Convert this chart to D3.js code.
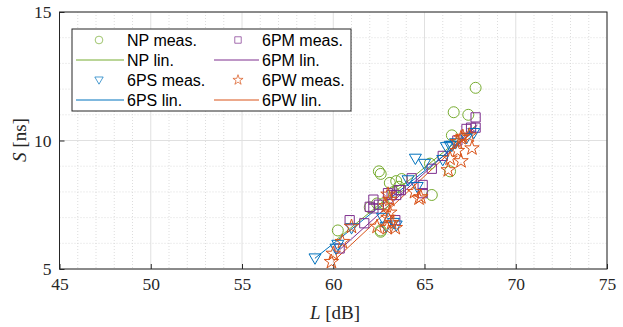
<!DOCTYPE html>
<html><head><meta charset="utf-8">
<script src="https://cdn.jsdelivr.net/npm/d3@7"></script>
<style>body{margin:0;background:#fff}svg{display:block}</style>
</head><body><svg id="c" width="623" height="327"></svg>
<script>
const xTicks = [45,50,55,60,65,70,75];
const yTicks = [5,10,15];
const seriesNames = ["NP","6PM","6PS","6PW"];
const seriesColors = ["#77AC30","#7E2F8E","#0072BD","#D95319"];
const seriesMarkers = ["circle","square","triangle","star"];
const npL = [67.8,66.6,67.4,66.5,65.3,66.4,62.5,62.6,63.1,63.45,63.75,63.6,65.4,63.3,62.0,62.4,62.75,62.6,60.25,62.6];
const npS = [12.05,11.1,11.0,10.2,9.1,8.8,8.8,8.7,8.35,8.42,8.5,8.2,7.88,8.0,7.4,7.55,7.55,6.5,6.5,6.45];
const pmL = [67.8,67.3,67.55,67.8,65.4,64.3,64.9,64.9,63.0,63.6,63.45,62.2,62.5,62.2,63.4,60.9,61.7,60.35,66.8,66.0,63.7,62.0,63.2];
const pmS = [10.9,10.45,10.5,10.5,8.9,8.53,8.27,7.95,7.95,8.07,7.88,7.7,7.5,7.36,6.9,6.9,6.78,5.8,10.0,9.4,8.07,7.42,7.88];
const psL = [67.7,66.5,66.7,66.2,64.5,65.0,66.0,64.1,64.6,63.3,63.45,62.9,61.0,60.25,60.15,59.0,67.3,66.4,62.7];
const psS = [10.3,9.8,9.9,9.75,9.3,9.1,9.25,8.46,8.2,6.8,6.7,6.65,6.6,5.95,5.8,5.42,10.1,9.8,7.0];
const pwL = [67.1,67.45,66.8,67.6,67.0,66.4,66.3,64.45,64.8,64.7,63.0,63.1,62.9,63.1,63.0,63.2,63.4,62.95,62.4,60.5,60.0,59.9,67.0,66.8,61.0];
const pwS = [10.15,10.2,9.95,9.7,9.2,9.3,8.85,8.0,7.8,7.75,7.9,7.7,7.45,7.2,7.0,6.8,6.6,6.6,6.65,6.06,5.6,5.28,10.1,9.6,6.65];
// linear fit endpoints: [L1, S1, L2, S2]
const npFit = [60.1,6.1,67.85,10.6];
const pmFit = [60.35,5.75,67.9,10.6];
const psFit = [59.0,5.42,67.8,10.4];
const pwFit = [60.0,5.3,67.7,10.4];

const seriesL = [npL,pmL,psL,pwL], seriesS=[npS,pmS,psS,pwS], fits=[npFit,pmFit,psFit,pwFit];

const svg = d3.select("#c");
const m = {l:59.5, r:607, t:12, b:269};
const x = d3.scaleLinear().domain([45,75]).range([m.l,m.r]);
const y = d3.scaleLinear().domain([5,15]).range([m.b,m.t]);
const serif = "'Liberation Serif','DejaVu Serif',serif";
const sans = "'Liberation Sans',Arial,sans-serif";

// minor grid
const g = svg.append("g");
g.selectAll(".mx").data(d3.range(46,75).filter(v=>v%5)).enter().append("line")
 .attr("x1",d=>x(d)).attr("x2",d=>x(d)).attr("y1",m.t).attr("y2",m.b)
 .attr("stroke","#d4d4d4").attr("stroke-width",0.8).attr("stroke-dasharray","1,2");
g.selectAll(".my").data(d3.range(6,15).filter(v=>v%5)).enter().append("line")
 .attr("y1",d=>y(d)).attr("y2",d=>y(d)).attr("x1",m.l).attr("x2",m.r)
 .attr("stroke","#d4d4d4").attr("stroke-width",0.8).attr("stroke-dasharray","1,2");
// major grid
g.selectAll(".Mx").data(xTicks).enter().append("line")
 .attr("x1",d=>x(d)).attr("x2",d=>x(d)).attr("y1",m.t).attr("y2",m.b)
 .attr("stroke","#e0e0e0").attr("stroke-width",1);
g.selectAll(".My").data(yTicks).enter().append("line")
 .attr("y1",d=>y(d)).attr("y2",d=>y(d)).attr("x1",m.l).attr("x2",m.r)
 .attr("stroke","#e0e0e0").attr("stroke-width",1);

// axes
const xa = svg.append("g").attr("transform",`translate(0,${m.b})`)
 .call(d3.axisBottom(x).tickValues(xTicks).tickSize(-5).tickPadding(9).tickFormat(d3.format("d")));
const ya = svg.append("g").attr("transform",`translate(${m.l},0)`)
 .call(d3.axisLeft(y).tickValues(yTicks).tickSize(-5).tickPadding(8).tickFormat(d3.format("d")));
[xa,ya].forEach(a=>{
 a.select(".domain").remove();
 a.selectAll("line").attr("stroke","#262626");
 a.selectAll("text").attr("font-family",serif).attr("font-size",17.5).attr("fill","#262626");
});
svg.append("rect").attr("x",m.l).attr("y",m.t).attr("width",m.r-m.l).attr("height",m.b-m.t)
 .attr("fill","none").attr("stroke","#262626").attr("stroke-width",1);

// labels
svg.append("text").attr("x",335).attr("y",319).attr("text-anchor","middle")
 .attr("font-family",serif).attr("font-size",19).attr("fill","#262626")
 .html("<tspan font-style='italic'>L</tspan> [dB]");
svg.append("text").attr("transform","translate(26,140) rotate(-90)").attr("text-anchor","middle")
 .attr("font-family",serif).attr("font-size",19).attr("fill","#262626")
 .html("<tspan font-style='italic'>S</tspan> [ns]");

function markerPath(type){
 if(type==="circle") return d3.symbol(d3.symbolCircle, 95)();
 if(type==="square") return d3.symbol(d3.symbolSquare, 85)();
 if(type==="triangle") return "M-6,-4.3L6,-4.3L0,6Z";
 if(type==="star") return d3.symbol(d3.symbolStar, 65)();
}

const plot = svg.append("g");
// lines
fits.forEach((f,i)=>{
 plot.append("line").attr("x1",x(f[0])).attr("y1",y(f[1])).attr("x2",x(f[2])).attr("y2",y(f[3]))
  .attr("stroke",seriesColors[i]).attr("stroke-width",1);
});
// markers
seriesNames.forEach((n,i)=>{
 const pts = seriesL[i].map((l,k)=>[l,seriesS[i][k]]);
 plot.selectAll(".p"+i).data(pts).enter().append("path")
  .attr("d",markerPath(seriesMarkers[i]))
  .attr("transform",d=>`translate(${x(d[0])},${y(d[1])})`)
  .attr("fill","none").attr("stroke",seriesColors[i]).attr("stroke-width",1);
});

// legend
const lg = svg.append("g");
lg.append("rect").attr("x",72).attr("y",29).attr("width",279).attr("height",82)
 .attr("fill","#fff").attr("stroke","#262626").attr("stroke-width",1);
const items = [
 {c:0,r:0,t:"NP meas.",s:0,type:"m"},{c:0,r:1,t:"NP lin.",s:0,type:"l"},
 {c:0,r:2,t:"6PS meas.",s:2,type:"m"},{c:0,r:3,t:"6PS lin.",s:2,type:"l"},
 {c:1,r:0,t:"6PM meas.",s:1,type:"m"},{c:1,r:1,t:"6PM lin.",s:1,type:"l"},
 {c:1,r:2,t:"6PW meas.",s:3,type:"m"},{c:1,r:3,t:"6PW lin.",s:3,type:"l"}];
const colX = [{l1:76,l2:124,mk:99,tx:127},{l1:214,l2:259,mk:238,tx:262}];
items.forEach(it=>{
 const yy = 40 + it.r*20;
 const cx = colX[it.c];
 if(it.type==="l"){
  lg.append("line").attr("x1",cx.l1).attr("x2",cx.l2).attr("y1",yy).attr("y2",yy)
   .attr("stroke",seriesColors[it.s]).attr("stroke-width",1);
 } else {
  lg.append("path").attr("d",markerPath(seriesMarkers[it.s]))
   .attr("transform",`translate(${cx.mk},${yy}) scale(0.7)`)
   .attr("fill","none").attr("stroke",seriesColors[it.s]).attr("stroke-width",1);
 }
 lg.append("text").attr("x",cx.tx).attr("y",yy+5.5).attr("font-family",sans).attr("font-size",16)
  .attr("fill","#000").text(it.t);
});
</script></body></html>
